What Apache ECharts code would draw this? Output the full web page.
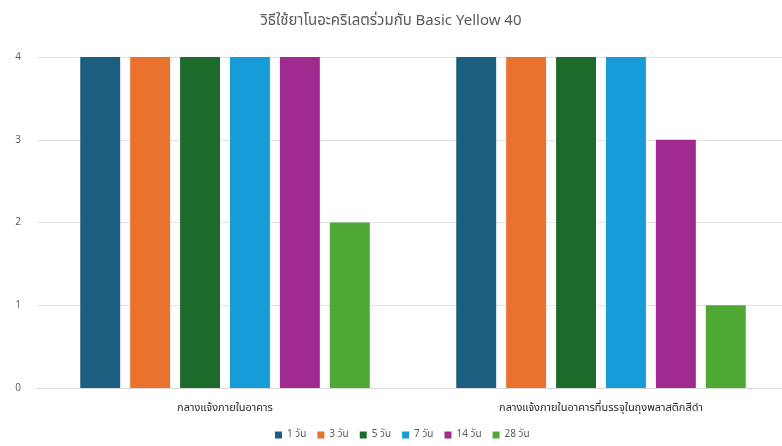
<!DOCTYPE html>
<html>
<head>
<meta charset="utf-8">
<script src="https://cdn.jsdelivr.net/npm/echarts@6/dist/echarts.min.js"></script>
<style>
  html, body { margin: 0; padding: 0; background: #ffffff; }
  #chart { width: 782px; height: 446px; }
</style>
</head>
<body>
<div id="chart"></div>
<script>
// Storage conditions (categories) and one series per storage period
const categories = ['กลางแจ้งภายในอาคาร', 'กลางแจ้งภายในอาคารที่บรรจุในถุงพลาสติกสีดำ'];
const seriesNames = ['1 วัน', '3 วัน', '5 วัน', '7 วัน', '14 วัน', '28 วัน'];
const day1 = [4, 4];
const day3 = [4, 4];
const day5 = [4, 4];
const day7 = [4, 4];
const day14 = [4, 3];
const day28 = [2, 1];
const yTicks = [0, 1, 2, 3, 4];

const seriesData = [day1, day3, day5, day7, day14, day28];
const palette = ['#1b5e7f', '#e9722f', '#1d6b2b', '#179cd8', '#a02a90', '#4ea833'];
const thaiFont = '"Noto Sans Thai", "Noto Sans", "DejaVu Sans", sans-serif';

const chart = echarts.init(document.getElementById('chart'));
chart.setOption({
  animation: false,
  color: palette,
  title: {
    text: 'วิธีใช้ยาโนอะคริเลตร่วมกับ Basic Yellow 40',
    left: 'center',
    top: 9,
    textStyle: { fontFamily: thaiFont, fontSize: 15, fontWeight: 'normal', color: '#595959' }
  },
  legend: {
    data: seriesNames,
    bottom: 1,
    left: 270,
    itemWidth: 7,
    itemHeight: 7,
    itemGap: 11,
    icon: 'rect',
    textStyle: { fontFamily: thaiFont, fontSize: 10, color: '#595959' }
  },
  // plot area runs slightly past the right edge of the canvas
  grid: { left: 37, width: 752, top: 57, bottom: 58, containLabel: false, outerBoundsMode: 'none' },
  xAxis: {
    type: 'category',
    data: categories,
    axisLine: { show: true, lineStyle: { color: '#d9d9d9' } },
    axisTick: { show: false },
    axisLabel: { fontFamily: thaiFont, fontSize: 11, color: '#262626', margin: 15 }
  },
  yAxis: {
    type: 'value',
    min: yTicks[0],
    max: yTicks[yTicks.length - 1],
    interval: 1,
    axisLine: { show: false },
    axisTick: { show: false },
    splitLine: { lineStyle: { color: '#e3e3e3' } },
    axisLabel: { fontSize: 10, color: '#595959', margin: 16, fontFamily: '"Open Sans", sans-serif' }
  },
  series: seriesNames.map((name, i) => ({
    name: name,
    type: 'bar',
    data: seriesData[i],
    barGap: '25%',
    barCategoryGap: '23%'
  }))
});
</script>
</body>
</html>
